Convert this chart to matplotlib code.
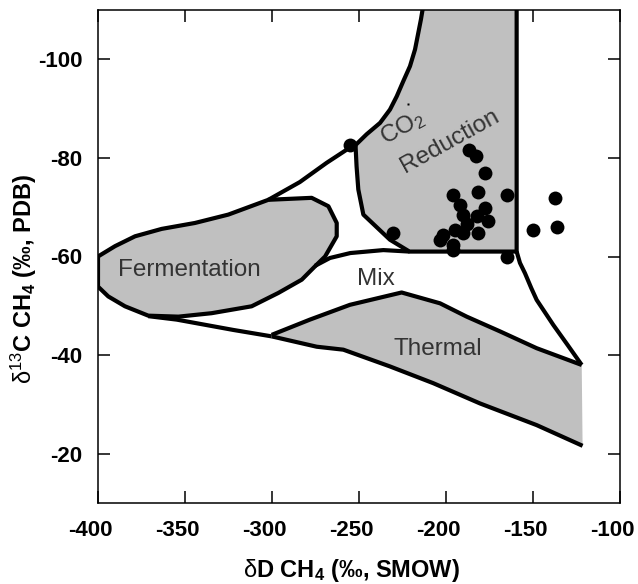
import matplotlib
matplotlib.use("Agg")
import matplotlib.pyplot as plt
from matplotlib.patches import Polygon
from matplotlib.transforms import ScaledTranslation

plt.rcParams['font.family'] = ['Liberation Sans', 'DejaVu Sans']
plt.rcParams['mathtext.fontset'] = 'custom'
plt.rcParams['mathtext.rm'] = 'Liberation Sans'
plt.rcParams['mathtext.bf'] = 'Liberation Sans:bold'
plt.rcParams['mathtext.it'] = 'Liberation Sans:italic'

# ---------------- data ----------------
fermentation_x = [-400, -390.2, -378.7, -363.4, -344.3, -325.1, -302.1, -277.2, -267.6, -262.8,
                  -262.8, -269.5, -275.3, -282.9, -296.4, -311.7, -334.7, -353.8, -371.1, -384.5,
                  -394.1, -400]
fermentation_y = [-60.0, -62.1, -64.1, -65.6, -66.8, -68.5, -71.5, -71.9, -70.2, -66.8,
                  -64.1, -60.0, -58.0, -55.3, -52.6, -49.9, -48.5, -47.8, -48.0, -49.9,
                  -51.9, -53.9]

co2_x = [-252.0, -245.6, -237.9, -232.2, -228.3, -224.5, -220.7, -217.8, -215.9, -214.4,
         -213.4, -212.5, -159.4, -159.4, -221.0, -232.2, -247.5, -250.4, -251.4]
co2_y = [-82.6, -84.8, -87.1, -89.8, -92.5, -95.6, -98.6, -102.0, -105.4, -108.1,
         -110.2, -113.0, -113.0, -61.0, -61.0, -63.4, -68.5, -73.6, -78.3]

thermal_top_x = [-300.2, -278.2, -255.2, -225.5, -203.4, -188.1, -168.9, -147.9, -122.0]
thermal_top_y = [-44.1, -47.2, -50.2, -52.7, -50.5, -47.8, -44.8, -41.4, -38.0]
thermal_bot_x = [-300.2, -274.3, -259.0, -232.2, -207.3, -180.5, -147.9, -121.5]
thermal_bot_y = [-43.8, -41.7, -41.1, -37.7, -34.3, -30.2, -25.8, -21.6]

upper_env_x = [-302.1, -284.0, -268.6, -255.2, -251.8]
upper_env_y = [-71.5, -75.1, -79.0, -82.1, -82.8]

mix_top_x = [-275.3, -266.7, -255.0, -236.0, -221.0]
mix_top_y = [-58.1, -59.7, -60.7, -61.3, -61.0]

lower_env_x = [-371.1, -354.8, -322.2, -300.2]
lower_env_y = [-47.9, -47.2, -45.1, -43.8]

mix_right_x = [-159.4, -157.5, -154.6, -151.0, -147.9, -143.0, -138.3, -130.0, -122.0]
mix_right_y = [-61.0, -58.7, -56.6, -53.6, -51.2, -48.6, -46.1, -42.0, -38.0]

sample_dD = [-255.4, -230.5, -186.8, -182.7, -177.7, -181.4, -195.8, -165.2, -137.5,
             -192.0, -177.6, -190.0, -175.7, -182.4, -188.1, -194.8, -201.6, -203.4,
             -190.0, -181.4, -195.8, -195.8, -149.8, -136.4, -165.2]
sample_d13C = [-82.6, -64.8, -81.6, -80.4, -76.9, -73.1, -72.4, -72.4, -71.9,
               -70.5, -69.9, -68.5, -67.1, -68.2, -66.5, -65.4, -64.4, -63.4,
               -64.8, -64.8, -62.4, -61.4, -65.4, -65.9, -60.0]

speck_x = [-221.7]
speck_y = [-90.9]

region_labels = ["Fermentation", "Mix", "Thermal"]
region_label_x = [-347.3, -240.1, -204.6]
region_label_y = [-56.0, -54.2, -40.0]

xticks = [-400, -350, -300, -250, -200, -150, -100]
yticks = [-100, -80, -60, -40, -20]

# ---------------- figure ----------------
W, H = 638, 584
fig = plt.figure(figsize=(W / 100, H / 100), dpi=100)
ax = fig.add_axes([98 / W, 1 - 503 / H, 522 / W, 493 / H])

gray = '#c0c0c0'
lw = 3.0

ferm = Polygon(list(zip(fermentation_x, fermentation_y)), closed=True,
               facecolor=gray, edgecolor='black', lw=lw, joinstyle='round', zorder=2)
ax.add_patch(ferm)

co2 = Polygon(list(zip(co2_x, co2_y)), closed=True,
              facecolor=gray, edgecolor='black', lw=lw, joinstyle='round', zorder=2)
ax.add_patch(co2)

th_poly = list(zip(thermal_top_x, thermal_top_y)) + list(zip(thermal_bot_x[::-1], thermal_bot_y[::-1]))
ax.add_patch(Polygon(th_poly, closed=True, facecolor=gray, edgecolor='none', zorder=1))

for xs, ys in [(thermal_top_x, thermal_top_y), (thermal_bot_x, thermal_bot_y),
               (upper_env_x, upper_env_y), (mix_top_x, mix_top_y),
               (lower_env_x, lower_env_y), (mix_right_x, mix_right_y)]:
    ax.plot(xs, ys, color='black', lw=lw, solid_joinstyle='round', solid_capstyle='butt', zorder=3)

ax.plot(sample_dD, sample_d13C, 'o', color='black', ms=10, mec='none', zorder=5)
ax.plot(speck_x, speck_y, 's', color='black', ms=1.6, mec='none', zorder=5)

for t, x, y in zip(region_labels, region_label_x, region_label_y):
    ax.text(x, y, t, ha='center', va='baseline', fontsize=17.5, color='#333333', zorder=6)

ax.text(-225.1, -86.1, "CO$_\\mathregular{2}$", ha='center', va='center', rotation=29,
        rotation_mode='anchor', fontsize=17.5, color='#333333', zorder=6)
ax.text(-197.7, -83.4, "Reduction", ha='center', va='center', rotation=29,
        rotation_mode='anchor', fontsize=17.5, color='#333333', zorder=6)

ax.set_xlim(-400, -100)
ax.set_ylim(-10, -110)
ax.set_xticks(xticks)
ax.set_yticks(yticks)
ax.set_xticklabels([str(v) for v in xticks], fontweight='bold', fontsize=16)
ax.set_yticklabels([str(v) for v in yticks], fontweight='bold', fontsize=16)
ax.tick_params(direction='in', length=8.6, width=1.1, top=True, right=True,
               labeltop=False, labelright=False)
ax.tick_params(axis='x', pad=12)
ax.tick_params(axis='y', pad=11)
for s in ax.spines.values():
    s.set_linewidth(1.1)

shift = ScaledTranslation(-7.5 / 100, 0, fig.dpi_scale_trans)
for lab in ax.get_xticklabels():
    lab.set_transform(lab.get_transform() + shift)

fig.text(351.5 / W, 1 - 570 / H, "$\\mathrm{δ}$D CH$_\\mathbf{4}$ (‰, SMOW)",
         ha='center', va='center', fontsize=17, fontweight='bold')
fig.text(24 / W, 1 - 279 / H, "$\\mathrm{δ}^{\\mathrm{13}}$C CH$_\\mathbf{4}$ (‰, PDB)",
         ha='center', va='center', fontsize=17, fontweight='bold', rotation=90)

fig.savefig("out.png", dpi=100)
